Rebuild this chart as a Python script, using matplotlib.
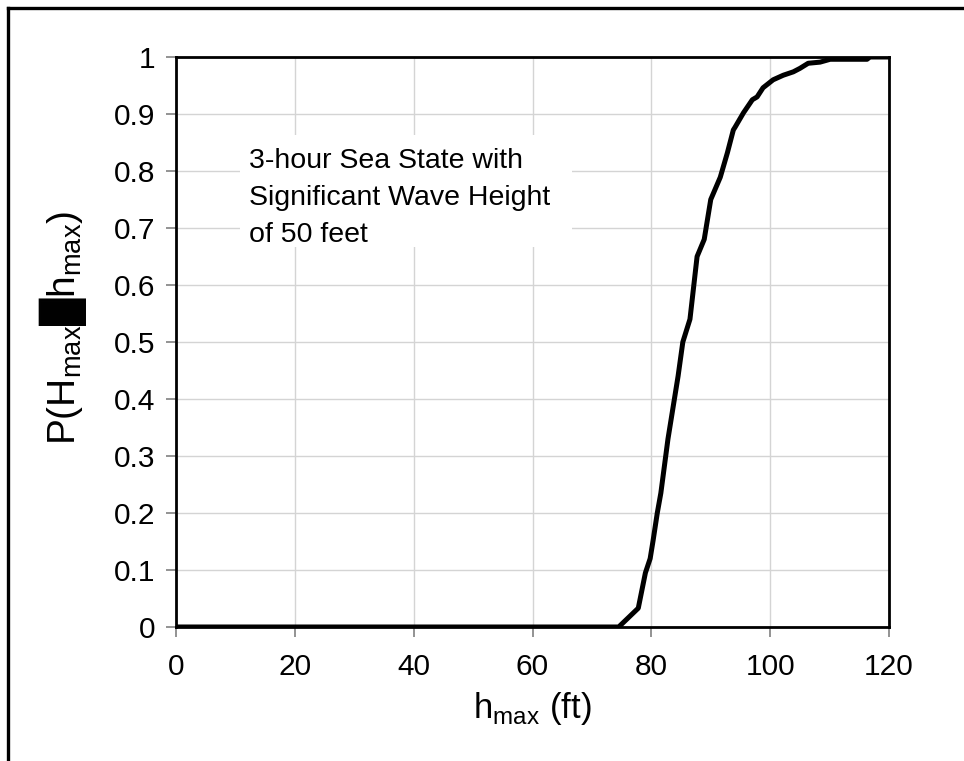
import matplotlib.pyplot as plt
from matplotlib.lines import Line2D
from matplotlib.patches import Rectangle

plt.rcParams['font.family'] = ['Liberation Sans', 'DejaVu Sans']
plt.rcParams['mathtext.fontset'] = 'custom'
plt.rcParams['mathtext.rm'] = 'Liberation Sans'

# CDF of the maximum wave height
h_max = [0, 20, 40, 60, 70, 74.5, 77.8, 79.0, 79.8, 80.3, 81.0, 81.6, 82.8,
         84.5, 85.3, 86.5, 87.7, 88.9, 90.0, 91.6, 92.8, 93.8, 94.1, 95.5,
         97.0, 97.8, 98.8, 100.5, 102.2, 103.9, 105.0, 106.4, 108.4, 110.1,
         116.3, 116.8, 120]
prob = [0, 0, 0, 0, 0, 0, 0.033, 0.095, 0.12, 0.152, 0.2, 0.235, 0.33,
        0.44, 0.5, 0.54, 0.65, 0.68, 0.75, 0.789, 0.832, 0.872, 0.877, 0.902,
        0.925, 0.93, 0.946, 0.96, 0.968, 0.974, 0.98, 0.989, 0.991, 0.996,
        0.996, 1.0, 1.0]

x_ticks = [0, 20, 40, 60, 80, 100, 120]
y_ticks = [0, 0.1, 0.2, 0.3, 0.4, 0.5, 0.6, 0.7, 0.8, 0.9, 1]
y_labels = ['0', '0.1', '0.2', '0.3', '0.4', '0.5', '0.6', '0.7', '0.8', '0.9', '1']

fig = plt.figure(figsize=(9.64, 7.61), dpi=100)
ax = fig.add_axes([0.1826, 0.1761, 0.7396, 0.749])

ax.plot(h_max, prob, color='black', linewidth=3.6, solid_joinstyle='round', zorder=3)

ax.set_xlim(0, 120)
ax.set_ylim(0, 1)
ax.set_xticks(x_ticks)
ax.set_yticks(y_ticks)
ax.set_yticklabels(y_labels)
ax.grid(True, color='#d4d4d4', linewidth=1.0)
ax.set_axisbelow(True)
ax.tick_params(axis='both', direction='out', length=7, width=1.2, color='#808080',
               labelsize=21.5, pad=8)
ax.tick_params(axis='x', pad=12)

for side in ['left', 'right', 'top', 'bottom']:
    ax.spines[side].set_color('black')
    ax.spines[side].set_linewidth(2.0)

ax.set_xlabel(r'h$_{\mathregular{max}}$ (ft)', fontsize=25, labelpad=6)
ax.set_ylabel('P(H$_{\\mathregular{max}}$█h$_{\\mathregular{max}}$)', fontsize=28)
ax.yaxis.set_label_coords(-0.122, 0.525)

# white box behind the note
ax.add_patch(Rectangle((0.0898, 0.667), 0.465, 0.196, transform=ax.transAxes,
                       facecolor='white', edgecolor='none', zorder=2))
ax.text(0.103, 0.84, '3-hour Sea State with\nSignificant Wave Height\nof 50 feet',
        transform=ax.transAxes, fontsize=20.5, va='top', ha='left', linespacing=1.55,
        zorder=4)

# outer frame: left and top edges only
W, H = 964, 761
fig.add_artist(Line2D([8 / W, 8 / W], [0, 1 - 8 / H], color='black', linewidth=2.4,
                      transform=fig.transFigure))
fig.add_artist(Line2D([8 / W, 1], [1 - 8 / H, 1 - 8 / H], color='black', linewidth=2.4,
                      transform=fig.transFigure))

fig.savefig('out.png', dpi=100)
